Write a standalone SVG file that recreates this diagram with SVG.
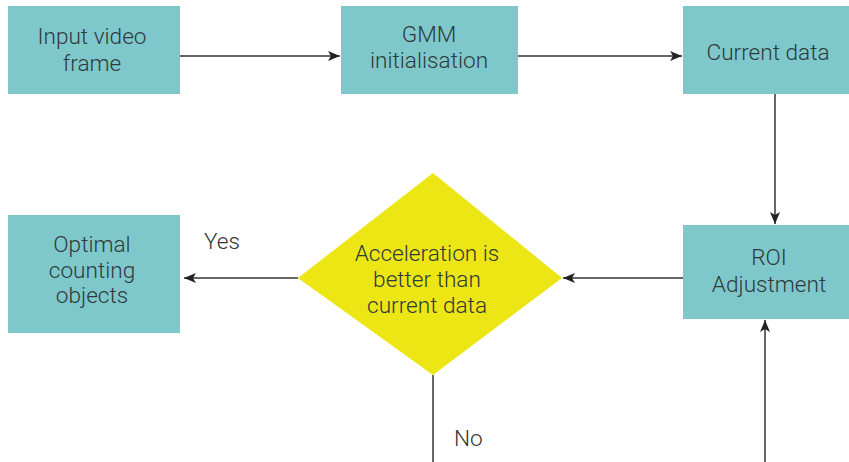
<svg xmlns="http://www.w3.org/2000/svg" width="849" height="462" viewBox="0 0 849 462">
<style>
.box{fill:#7ec8cc}
.dia{fill:#ebe614}
.t{font-family:Roboto,"Liberation Sans",sans-serif;font-weight:300;font-size:22.6px;fill:#2f3a3b;text-anchor:middle}
.l{font-family:Roboto,"Liberation Sans",sans-serif;font-weight:300;font-size:22.6px;fill:#333}
.c{stroke:#333;stroke-width:1.5;fill:none}
</style>
<defs>
<marker id="ah" viewBox="0 0 12 10" refX="12" refY="5" markerWidth="12" markerHeight="10" markerUnits="userSpaceOnUse" orient="auto">
<path d="M0,0 L12,5 L0,10 L3,5 Z" fill="#222"/>
</marker>
</defs>
<g id="n1"><rect class="box" x="8" y="6" width="172" height="88"/><text class="t" x="92" y="44">Input video</text><text class="t" x="92" y="71">frame</text></g>
<g id="n2"><rect class="box" x="341" y="6" width="177" height="88"/><text class="t" x="429" y="42">GMM</text><text class="t" x="429" y="68">initialisation</text></g>
<g id="n3"><rect class="box" x="683" y="6" width="166" height="88"/><text class="t" x="768" y="60">Current data</text></g>
<g id="n4"><rect class="box" x="683" y="225" width="166" height="94"/><text class="t" x="769" y="265">ROI</text><text class="t" x="769" y="292">Adjustment</text></g>
<g id="n5"><polygon class="dia" points="433,173 562,278 433,375 298,278"/><text class="t" x="427" y="261">Acceleration is</text><text class="t" x="427" y="287">better than</text><text class="t" x="427" y="313">current data</text></g>
<g id="n6"><rect class="box" x="8" y="215" width="172" height="118"/><text class="t" x="92" y="252">Optimal</text><text class="t" x="92" y="278">counting</text><text class="t" x="92" y="303">objects</text></g>
<g id="connectors">
<line class="c" x1="180" y1="56" x2="340" y2="56" marker-end="url(#ah)"/>
<line class="c" x1="518" y1="56" x2="682" y2="56" marker-end="url(#ah)"/>
<line class="c" x1="775" y1="94" x2="775" y2="224" marker-end="url(#ah)"/>
<line class="c" x1="683" y1="278" x2="563" y2="278" marker-end="url(#ah)"/>
<line class="c" x1="298" y1="278" x2="184" y2="278" marker-end="url(#ah)"/>
<line class="c" x1="433" y1="375" x2="433" y2="462"/>
<line class="c" x1="765" y1="462" x2="765" y2="320" marker-end="url(#ah)"/>
<text class="l" x="204" y="249">Yes</text>
<text class="l" x="454" y="446">No</text>
</g>
</svg>
